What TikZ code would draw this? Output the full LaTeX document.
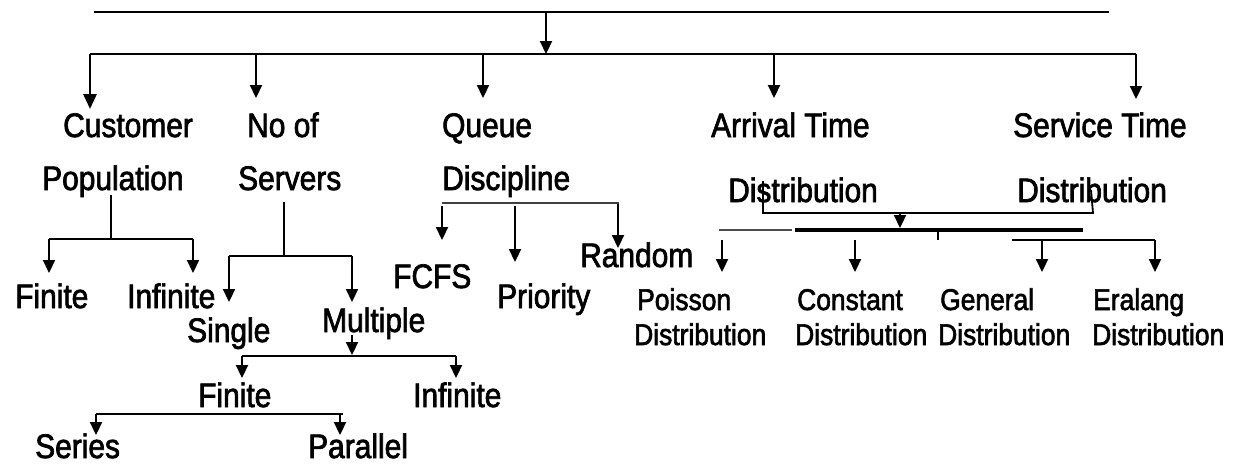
\documentclass[tikz,border=0pt]{standalone}
\usepackage{fontspec}
\setmainfont{Liberation Sans}
\newfontfamily\diagfont[FakeStretch=0.88,FakeBold=2]{Liberation Sans}
\usetikzlibrary{arrows.meta}
\tikzset{
  big/.style={anchor=base west, inner sep=0pt, font=\diagfont\fontsize{34}{36}\selectfont},
  small/.style={anchor=base west, inner sep=0pt, font=\diagfont\fontsize{30}{32}\selectfont},
  bus/.style={line width=2.8pt},
  thinln/.style={line width=1.8pt},
  arr/.style={-{Triangle[length=13pt,width=12pt]}, line width=2.2pt},
  bigarr/.style={-{Triangle[length=15pt,width=13pt]}, line width=2.8pt},
}
\begin{document}
\begin{tikzpicture}[x=1pt,y=-1pt]
\useasboundingbox (0,0) rectangle (1239,467);
% ---- text nodes
\node[big] (cust) at (63,137) {Customer};
\node[big] (pop) at (42,190) {Population};
\node[big] (noof) at (247,137) {No of};
\node[big] (serv) at (238,190) {Servers};
\node[big] (queue) at (442,137) {Queue};
\node[big] (disc) at (442,190) {Discipline};
\node[big] (arr) at (711,137) {Arrival Time};
\node[big] (arrd) at (728,202) {Distribution};
\node[big] (svc) at (1013,137) {Service Time};
\node[big] (svcd) at (1017,202) {Distribution};
\node[big] (pfin) at (15,308) {Finite};
\node[big] (pinf) at (127,308) {Infinite};
\node[big] (single) at (187,342) {Single};
\node[big] (mult) at (322,332) {Multiple};
\node[big] (mfin) at (198,407) {Finite};
\node[big] (minf) at (413,407) {Infinite};
\node[big] (series) at (35,458) {Series};
\node[big] (parallel) at (308,458) {Parallel};
\node[big] (fcfs) at (393,288) {FCFS};
\node[big] (prio) at (497,308) {Priority};
\node[big] (rand) at (580,267) {Random};
\node[small] (pois) at (637,310) {Poisson};
\node[small] (poisd) at (634,345) {Distribution};
\node[small] (const) at (797,310) {Constant};
\node[small] (constd) at (795,345) {Distribution};
\node[small] (gen) at (940,310) {General};
\node[small] (gend) at (938,345) {Distribution};
\node[small] (erl) at (1093,310) {Eralang};
\node[small] (erld) at (1092,345) {Distribution};
% ---- coordinates
\coordinate (topL) at (94,12);
\coordinate (topR) at (1109,12);
\coordinate (topM) at (546,12);
\coordinate (busL) at (90,54);
\coordinate (busR) at (1136,54);
\coordinate (busM) at (546,54);
% top structure
\draw[bus] (topL) -- (topR);
\draw[arr] (topM) -- (busM);
\draw[bus] (busL) -- (busR);
\draw[bigarr] (busL) -- (90,109) coordinate (custTip);
\draw[arr] (256,54) -- (256,98) coordinate (noofTip);
\draw[arr] (483,54) -- (483,98) coordinate (queueTip);
\draw[arr] (774,54) -- (774,98) coordinate (arrTip);
\draw[arr] (1136,54) -- (1136,99) coordinate (svcTip);
% population
\coordinate (popJ) at (111,239);
\draw[line width=2.2pt] (111,195) -- (popJ);
\draw[bus] (49,239) -- (193,239);
\draw[arr] (49,239) -- (49,273) coordinate (pfinTip);
\draw[arr] (193,239) -- (193,273) coordinate (pinfTip);
% servers
\coordinate (servJ) at (284,256);
\draw[line width=2.2pt] (284,202) -- (servJ);
\draw[line width=2.4pt] (229,256) -- (352,256);
\draw[arr] (229,256) -- (229,302) coordinate (singleTip);
\draw[arr] (352,256) -- (352,302) coordinate (multTip);
% multiple
\draw[arr] (352,335) -- (352,355) coordinate (multJ);
\draw[thinln] (242,356) -- (456,356);
\draw[arr] (242,356) -- (242,378) coordinate (mfinTip);
\draw[arr] (456,356) -- (456,378) coordinate (minfTip);
% finite
\draw[line width=2.2pt] (96,414) -- (343,414);
\draw[arr] (96,414) -- (96,435) coordinate (seriesTip);
\draw[arr] (340,414) -- (340,435) coordinate (parTip);
% discipline
\draw[thinln, draw=black!75] (442,203) -- (619,203);
\draw[arr] (442,206) -- (442,240) coordinate (fcfsTip);
\draw[arr] (515,206) -- (515,262) coordinate (prioTip);
\draw[arr] (618,204) -- (618,248) coordinate (randTip);
% distributions
\draw[thinln] (763,181) -- (763,213) -- (1093,213) -- (1091,190);
\draw[arr] (900,213) -- (900,228) coordinate (distTip);
\draw[line width=2.2pt, draw=black!70] (719,230) -- (792,230);
\draw[line width=3.2pt] (795,230) -- (1083,230);
\draw[thinln] (938,230) -- (938,240);
\draw[bus] (1012,240) -- (1155,240);
\draw[arr] (722,240) -- (722,272) coordinate (poisTip);
\draw[arr] (855,240) -- (855,272) coordinate (constTip);
\draw[arr] (1042,240) -- (1042,272) coordinate (genTip);
\draw[arr] (1155,240) -- (1155,272) coordinate (erlTip);
\end{tikzpicture}
\end{document}
